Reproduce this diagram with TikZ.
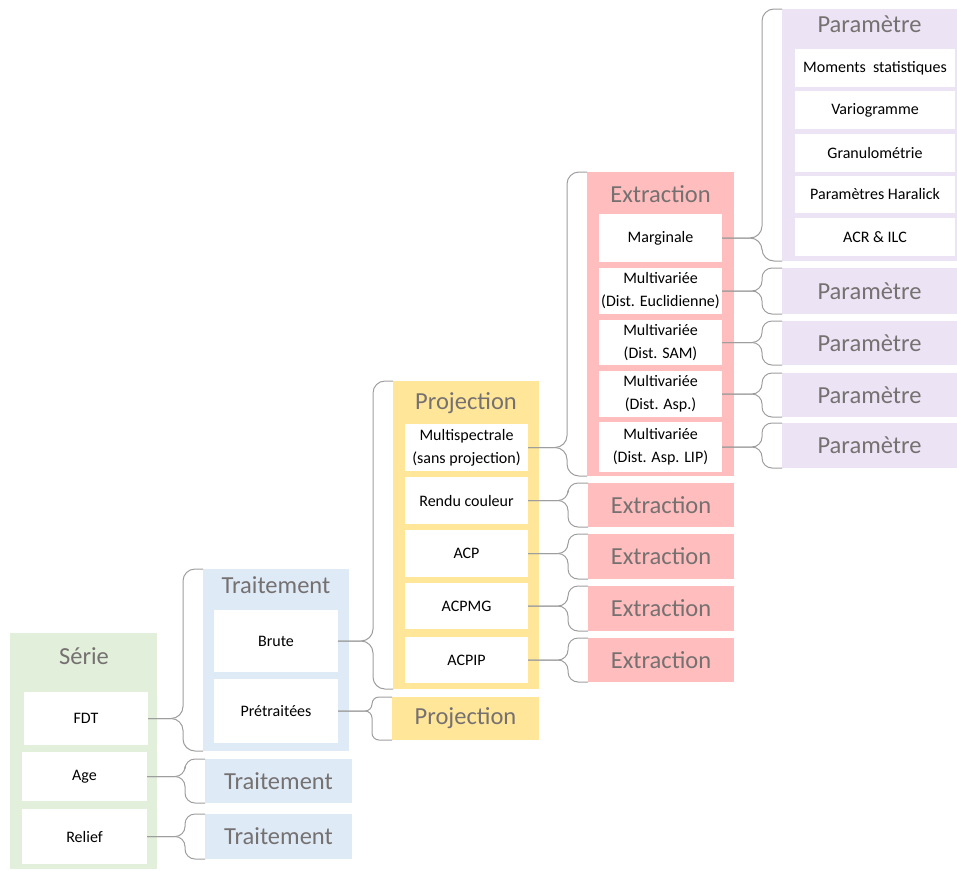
\documentclass[tikz,border=0pt]{standalone}
\usepackage{fontspec}
\setmainfont{Carlito}
\usetikzlibrary{calc}
\definecolor{cgreen}{HTML}{E2EFDA}
\definecolor{cblue}{HTML}{DEEAF6}
\definecolor{cyellow}{HTML}{FFE699}
\definecolor{cpink}{HTML}{FFBDBD}
\definecolor{clav}{HTML}{ECE4F4}
\definecolor{ctitle}{HTML}{767171}
\definecolor{cbrace}{HTML}{9E9E9E}
\newcommand\bracelink[3][10pt]{%
  \draw[bracestyle,rounded corners=#1] (#2.east) -| ($(#3.north west)+(-20,0)$) -- (#3.north west);
  \draw[bracestyle,rounded corners=#1] (#2.east) -| ($(#3.south west)+(-20,0)$) -- (#3.south west);}
\begin{document}
\begin{tikzpicture}[x=1pt,y=-1pt,
  panel/.style={draw=none,inner sep=0pt,outer sep=0pt},
  gbox/.style={panel,fill=cgreen},
  bbox/.style={panel,fill=cblue},
  ybox/.style={panel,fill=cyellow},
  pbox/.style={panel,fill=cpink},
  lbox/.style={panel,fill=clav},
  ttl/.style={text=ctitle,font=\fontsize{24.5}{28}\selectfont,inner sep=0pt},
  item/.style={fill=white,inner sep=0pt,outer sep=0pt,font=\fontsize{16}{23}\selectfont,align=center,text=black},
  bracestyle/.style={draw=cbrace,line width=1pt}]
\useasboundingbox (0,0) rectangle (957,870);
% ---- Serie
\node[gbox,minimum width=147,minimum height=236] (serie) at (83.5,751) {};
\node[ttl] (serieT) at (84,656) {Série};
\node[item,minimum width=124,minimum height=53] (fdt) at (86,718.5) {FDT};
\node[item,minimum width=125,minimum height=49] (age) at (84.5,776.5) {Age};
\node[item,minimum width=125,minimum height=55] (relief) at (84.5,836.5) {Relief};
% ---- Traitement
\node[bbox,minimum width=146,minimum height=182] (trait) at (276,660) {};
\node[ttl] (traitT) at (276,585) {Traitement};
\node[item,minimum width=124,minimum height=62] (brute) at (276,641) {Brute};
\node[item,minimum width=124,minimum height=64] (pretr) at (276,711) {Prétraitées};
\node[bbox,ttl,minimum width=147,minimum height=44] (traitA) at (278.5,781) {Traitement};
\node[bbox,ttl,minimum width=147,minimum height=45] (traitR) at (278.5,836.5) {Traitement};
% ---- Projection
\node[ybox,minimum width=146,minimum height=308] (proj) at (466,535) {};
\node[ttl] (projT) at (466,403) {Projection};
\node[item,minimum width=123,minimum height=47] (multi) at (466.5,447.5) {Multispectrale\\(sans projection)};
\node[item,minimum width=123,minimum height=47] (rendu) at (466.5,500.5) {Rendu couleur};
\node[item,minimum width=123,minimum height=47] (acp) at (466.5,553.5) {ACP};
\node[item,minimum width=123,minimum height=46] (acpmg) at (466.5,606) {ACPMG};
\node[item,minimum width=123,minimum height=46] (acpip) at (466.5,660) {ACPIP};
\node[ybox,ttl,minimum width=147,minimum height=43] (projP) at (465.5,718.5) {Projection};
% ---- Extraction
\node[pbox,minimum width=147,minimum height=304] (extr) at (660.5,324) {};
\node[ttl] (extrT) at (660.5,194) {Extraction};
\node[item,minimum width=123,minimum height=48] (marg) at (660.5,238) {Marginale};
\node[item,minimum width=123,minimum height=46] (eucl) at (660.5,291) {Multivariée\\(Dist. Euclidienne)};
\node[item,minimum width=123,minimum height=45] (sam) at (660.5,342.5) {Multivariée\\(Dist. SAM)};
\node[item,minimum width=123,minimum height=46] (asp) at (660.5,394) {Multivariée\\(Dist. Asp.)};
\node[item,minimum width=123,minimum height=50] (lip) at (660.5,447) {Multivariée\\(Dist. Asp. LIP)};
\node[pbox,ttl,minimum width=146,minimum height=44] (extrR) at (661,505) {Extraction};
\node[pbox,ttl,minimum width=146,minimum height=45] (extrA) at (661,556.5) {Extraction};
\node[pbox,ttl,minimum width=146,minimum height=45] (extrM) at (661,608.5) {Extraction};
\node[pbox,ttl,minimum width=146,minimum height=44] (extrI) at (661,660) {Extraction};
% ---- Parametre
\node[lbox,minimum width=175,minimum height=252] (param) at (869.5,135) {};
\node[ttl] (paramT) at (869.5,24) {Paramètre};
\node[item,minimum width=160,minimum height=38] (mom) at (875,68) {Moments\ \ statistiques};
\node[item,minimum width=160,minimum height=38] (vario) at (875,110) {Variogramme};
\node[item,minimum width=160,minimum height=38] (granu) at (875,153) {Granulométrie};
\node[item,minimum width=160,minimum height=37] (hara) at (875,194.5) {Paramètres Haralick};
\node[item,minimum width=160,minimum height=38] (acr) at (875,237) {ACR \& ILC};
\node[lbox,ttl,minimum width=175,minimum height=46] (parE) at (869.5,291) {Paramètre};
\node[lbox,ttl,minimum width=175,minimum height=44] (parS) at (869.5,343) {Paramètre};
\node[lbox,ttl,minimum width=175,minimum height=44] (parA) at (869.5,395) {Paramètre};
\node[lbox,ttl,minimum width=175,minimum height=45] (parL) at (869.5,445.5) {Paramètre};
% ---- braces
\bracelink[12pt]{fdt}{trait}
\bracelink{age}{traitA}
\bracelink{relief}{traitR}
\bracelink[12pt]{brute}{proj}
\bracelink[7pt]{pretr}{projP}
\bracelink[12pt]{multi}{extr}
\bracelink{rendu}{extrR}
\bracelink{acp}{extrA}
\bracelink{acpmg}{extrM}
\bracelink{acpip}{extrI}
\bracelink[12pt]{marg}{param}
\bracelink{eucl}{parE}
\bracelink{sam}{parS}
\bracelink{asp}{parA}
\bracelink{lip}{parL}
\end{tikzpicture}
\end{document}
